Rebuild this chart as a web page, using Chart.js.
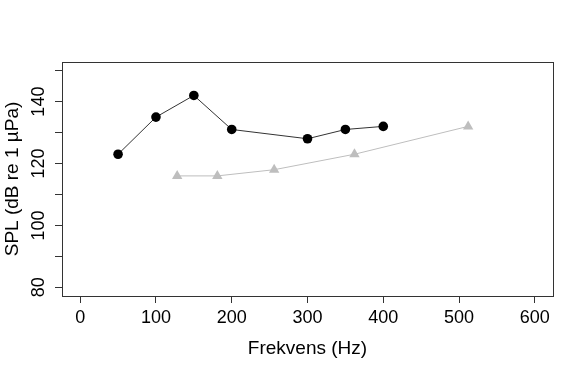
<!DOCTYPE html>
<html><head><meta charset="utf-8">
<script src="https://cdn.jsdelivr.net/npm/chart.js@4/dist/chart.umd.min.js"></script>
<style>html,body{margin:0;padding:0;background:#fff}#wrap{width:586px;height:374px}</style>
</head><body><div id="wrap"><canvas id="c" width="586" height="374"></canvas></div>
<script>
const seriesAFreq = [50, 100, 150, 200, 300, 350, 400];
const seriesASPL  = [123, 135, 142, 131, 128, 131, 132];
const seriesBFreq = [128, 181, 256, 362, 512];
const seriesBSPL  = [116, 116, 118, 123, 132];
const xTicks = [0, 100, 200, 300, 400, 500, 600];
const yTicks = [80, 90, 100, 110, 120, 130, 140, 150];
const yLabelled = [80, 100, 120, 140];
const xTitle = 'Frekvens (Hz)';
const yTitle = 'SPL (dB re 1 \u00B5Pa)';

const FONT = 'Liberation Sans, Arial, sans-serif';
const boxPlugin = {
  id: 'box',
  afterDraw(chart) {
    const a = chart.chartArea, ctx = chart.ctx;
    ctx.save();
    ctx.strokeStyle = '#333';
    ctx.lineWidth = 1;
    ctx.strokeRect(Math.round(a.left) + 0.5, Math.round(a.top) + 0.5, Math.round(a.right - a.left), Math.round(a.bottom - a.top));
    ctx.restore();
  }
};

new Chart(document.getElementById('c'), {
  type: 'scatter',
  data: {
    datasets: [
      {
        data: seriesAFreq.map((x, i) => ({x, y: seriesASPL[i]})),
        showLine: true, borderColor: '#333', borderWidth: 1,
        pointStyle: 'circle', pointRadius: 4.8, pointBackgroundColor: '#000', pointBorderColor: '#000', pointBorderWidth: 0
      },
      {
        data: seriesBFreq.map((x, i) => ({x, y: seriesBSPL[i]})),
        showLine: true, borderColor: '#bebebe', borderWidth: 1,
        pointStyle: 'triangle', pointRadius: 6, pointBackgroundColor: '#bebebe', pointBorderColor: '#bebebe', pointBorderWidth: 0
      }
    ]
  },
  options: {
    responsive: false, animation: false, devicePixelRatio: 1,
    layout: { padding: { left: 0, top: 62, right: 33, bottom: 0 } },
    plugins: { legend: { display: false }, tooltip: { enabled: false } },
    scales: {
      x: {
        type: 'linear', min: -24, max: 624,
        afterBuildTicks(s) { s.ticks = xTicks.map(v => ({value: v})); },
        afterFit(s) { s.height = 78; },
        grid: { display: true, drawOnChartArea: false, drawTicks: true, tickLength: 7, tickColor: '#333', color: '#333' },
        border: { display: false },
        ticks: { color: '#000', font: { family: FONT, size: 18 }, padding: 4, maxRotation: 0, autoSkip: false },
        title: { display: true, text: xTitle, color: '#000', font: { family: FONT, size: 19 }, padding: { top: 0, bottom: 14 } }
      },
      y: {
        type: 'linear', min: 77.2, max: 152.8,
        afterBuildTicks(s) { s.ticks = yTicks.map(v => ({value: v})); },
        afterFit(s) { s.width = 62; },
        grid: { display: true, drawOnChartArea: false, drawTicks: true, tickLength: 7, tickColor: '#333', color: '#333' },
        border: { display: false },
        ticks: { color: '#000', font: { family: FONT, size: 18 }, padding: 1, minRotation: 90, maxRotation: 90, crossAlign: 'center', autoSkip: false,
          callback: v => yLabelled.includes(v) ? String(v) : '' },
        title: { display: true, text: yTitle, color: '#000', font: { family: FONT, size: 19 }, padding: { top: 1, bottom: 0 } }
      }
    }
  },
  plugins: [boxPlugin]
});
</script></body></html>
